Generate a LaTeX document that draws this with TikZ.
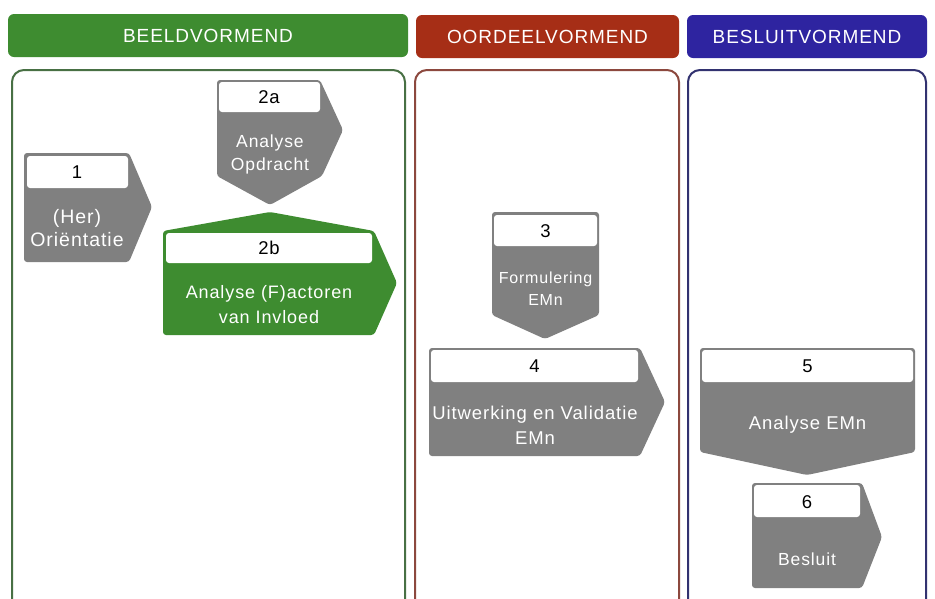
\documentclass[tikz,border=0pt]{standalone}
\usepackage{fontspec}
\setmainfont{Liberation Sans}[LetterSpace=5]
\definecolor{stepgray}{RGB}{128,128,128}
\definecolor{beeldgreen}{RGB}{62,140,48}
\definecolor{oordeelred}{RGB}{166,46,22}
\definecolor{besluitblue}{RGB}{46,36,160}
\definecolor{greenline}{RGB}{72,112,68}
\definecolor{redline}{RGB}{140,72,62}
\definecolor{blueline}{RGB}{50,50,112}
\tikzset{
  header/.style={rounded corners=6pt},
  headtext/.style={text=white,font=\fontsize{19}{22}\selectfont},
  panel/.style={line width=2pt,fill=white,rounded corners=12pt},
  stepshape/.style={fill=stepgray,rounded corners=3pt},
  greenshape/.style={fill=beeldgreen,rounded corners=3pt},
  labelbox/.style={fill=white,rounded corners=3pt},
  numtext/.style={text=black,font=\fontsize{18.5}{22}\selectfont},
  steptext/.style={text=white,align=center,font=\fontsize{18.5}{23}\selectfont},
  smalltext/.style={steptext,font=\fontsize{16}{22}\selectfont},
}
\begin{document}
\begin{tikzpicture}[x=1pt,y=-1pt]
\useasboundingbox[fill=white] (0,0) rectangle (935,598);

% phase headers
\fill[header,beeldgreen] (8,14) rectangle (408,57);
\fill[header,oordeelred] (416,15) rectangle (679,58);
\fill[header,besluitblue] (687,15) rectangle (927,58);
\node[headtext] (hBeeld) at (208,36) {BEELDVORMEND};
\node[headtext] (hOordeel) at (547.5,37) {OORDEELVORMEND};
\node[headtext] (hBesluit) at (807,37) {BESLUITVORMEND};

% phase panels
\draw[panel,draw=greenline] (12,70) rectangle (405,612);
\draw[panel,draw=redline] (415,70) rectangle (679,612);
\draw[panel,draw=blueline] (688,70) rectangle (926,612);

% step 1
\fill[stepshape] (24,153) -- (129,153) -- (152,207) -- (129,262) -- (24,262) -- cycle;
\fill[labelbox] (27,156) rectangle (128,188);
\node[numtext] (n1) at (77,172) {1};
\node[steptext,font=\fontsize{19.5}{23}\selectfont] (t1) at (77,228) {(Her)\\Oriëntatie};

% step 2a
\fill[stepshape] (217,80) -- (320,80) -- (343,130) -- (322,176) -- (270,205) -- (217,176) -- cycle;
\fill[labelbox] (219,82) rectangle (320,112);
\node[numtext] (n2a) at (269,97) {2a};
\node[steptext,font=\fontsize{17.5}{23}\selectfont] (t2a) at (270,154) {Analyse\\Opdracht};

% step 2b
\fill[greenshape] (163,231) -- (270,212) -- (374,231) -- (397,283) -- (374,335) -- (163,335) -- cycle;
\fill[labelbox] (166,233) rectangle (372,263);
\node[numtext] (n2b) at (269,248) {2b};
\node[steptext,font=\fontsize{18}{25}\selectfont] (t2b) at (269,305) {Analyse (F)actoren\\van Invloed};

% step 3
\fill[stepshape] (492,212) -- (599,212) -- (599,315) -- (545,339) -- (492,315) -- cycle;
\fill[labelbox] (494,215) rectangle (597,246);
\node[numtext] (n3) at (545.5,231) {3};
\node[smalltext] (t3) at (545.5,289) {Formulering\\EMn};

% step 4
\fill[stepshape] (429,348) -- (640,348) -- (665,402) -- (640,456) -- (429,456) -- cycle;
\fill[labelbox] (431,350) rectangle (638,382);
\node[numtext] (n4) at (534.5,366) {4};
\node[steptext,font=\fontsize{18.5}{25}\selectfont] (t4) at (535,425) {Uitwerking en Validatie\\EMn};

% step 5
\fill[stepshape] (700,348) -- (915,348) -- (915,452) -- (807,475) -- (700,452) -- cycle;
\fill[labelbox] (702,350) rectangle (913,382);
\node[numtext] (n5) at (807.5,366) {5};
\node[steptext] (t5) at (807.5,425) {Analyse EMn};

% step 6
\fill[stepshape] (752,483) -- (862,483) -- (882,537) -- (862,588) -- (752,588) -- cycle;
\fill[labelbox] (754,485) rectangle (860,517);
\node[numtext] (n6) at (807,502) {6};
\node[steptext,font=\fontsize{17.5}{23}\selectfont] (t6) at (807,559) {Besluit};
\end{tikzpicture}
\end{document}
